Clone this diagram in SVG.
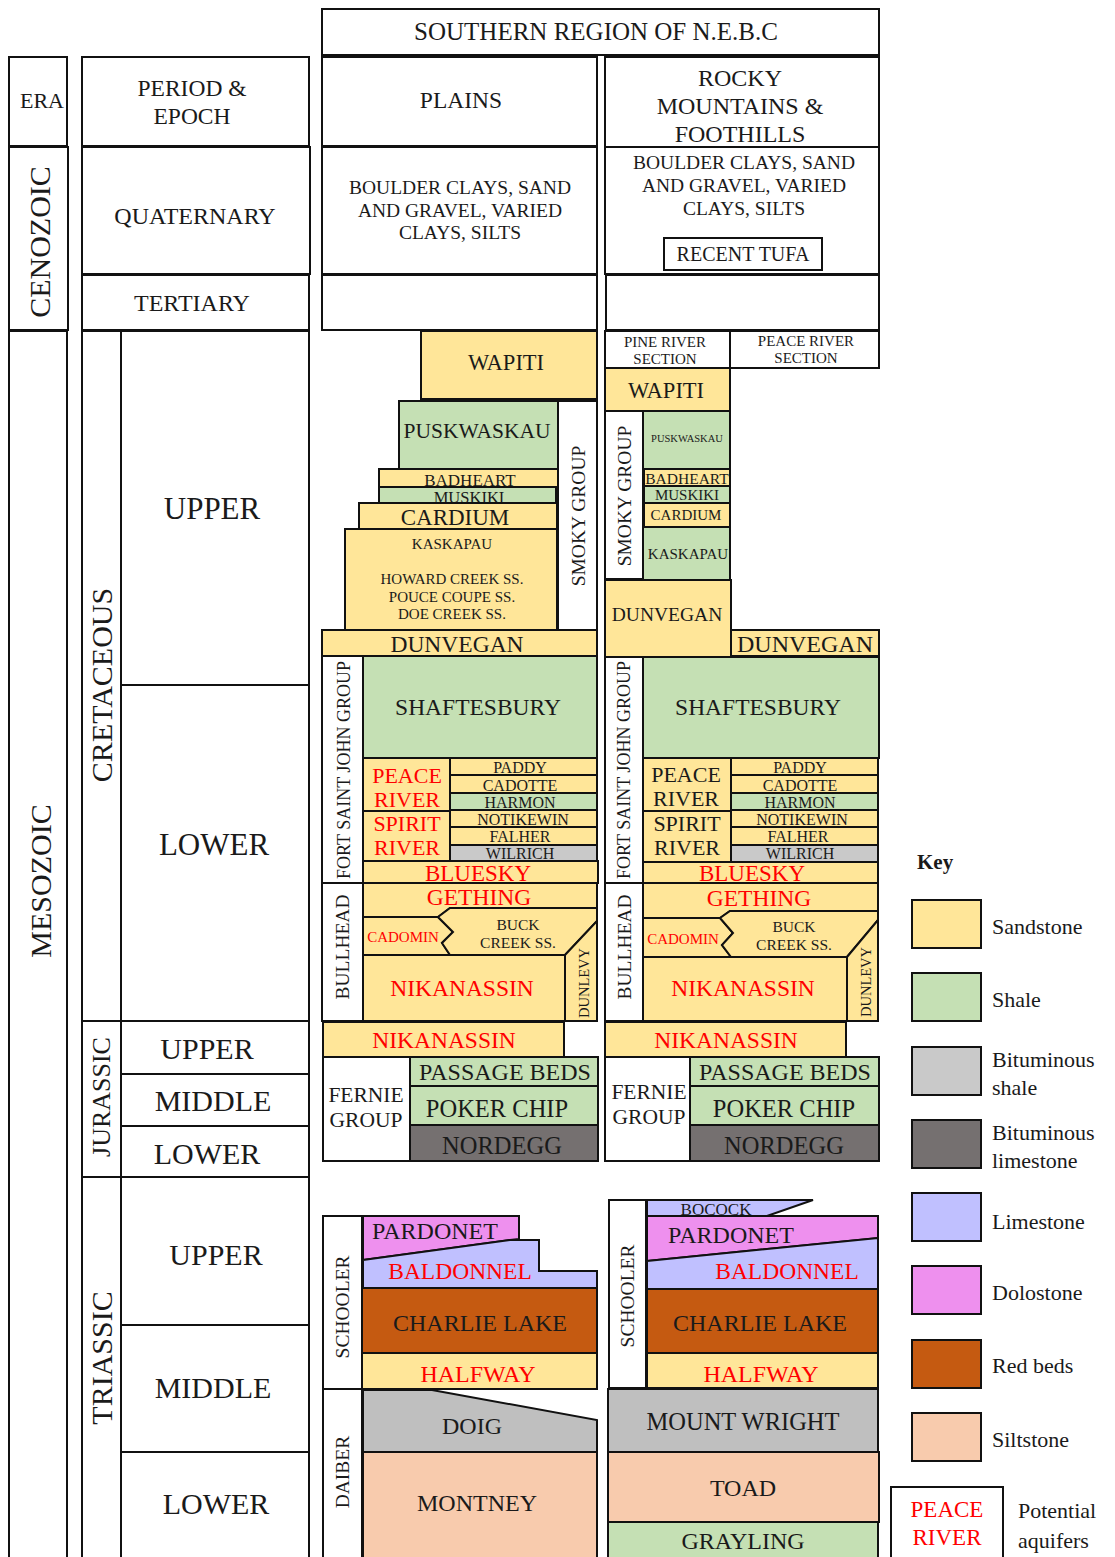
<svg xmlns="http://www.w3.org/2000/svg" width="1115" height="1557" viewBox="0 0 1115 1557">
<style>
rect,polygon{stroke:#111;stroke-width:2;stroke-linejoin:miter}
rect.bg{stroke:none;fill:#fff}
.w{fill:#fff}.ss{fill:#ffe699}.sh{fill:#c5e0b4}.bs{fill:#c9c9c9}.bl{fill:#757070}.ls{fill:#c0c0ff}.do{fill:#ee90ee}.rb{fill:#c55a11}.st{fill:#f8cbad}.gy{fill:#bfbfbf}
text{font-family:"Liberation Serif","Times New Roman",serif;fill:#1a1a1a;text-anchor:middle;dominant-baseline:central}
.r{fill:#ff0000}
.k{text-anchor:start}
</style>
<rect class="bg" x="0" y="0" width="1115" height="1557"/>

<!-- time scale columns -->
<g id="era-head"><rect class="w" x="9" y="57" width="58" height="89"/><text x="42" y="100" font-size="22">ERA</text></g>
<g id="cenozoic"><rect class="w" x="9" y="147" width="59" height="183"/><text transform="translate(39,242) rotate(-90)" font-size="30">CENOZOIC</text></g>
<g id="mesozoic"><rect class="w" x="9" y="331" width="58" height="1240"/><text transform="translate(40,881) rotate(-90)" font-size="30">MESOZOIC</text></g>
<g id="period-head"><rect class="w" x="82" y="57" width="227" height="89"/><text x="192" y="88" font-size="23.5">PERIOD &amp;</text><text x="192" y="116" font-size="23.5">EPOCH</text></g>
<g id="quaternary"><rect class="w" x="82" y="147" width="228" height="127"/><text x="195" y="216" font-size="24">QUATERNARY</text></g>
<g id="tertiary"><rect class="w" x="82" y="275" width="227" height="55"/><text x="192" y="303" font-size="24">TERTIARY</text></g>
<g id="cretaceous"><rect class="w" x="82" y="331" width="39" height="690"/><text transform="translate(101,685) rotate(-90)" font-size="30">CRETACEOUS</text></g>
<g id="cret-upper"><rect class="w" x="121" y="331" width="188" height="354"/><text x="212" y="508" font-size="31">UPPER</text></g>
<g id="cret-lower"><rect class="w" x="121" y="685" width="188" height="336"/><text x="214" y="844" font-size="31">LOWER</text></g>
<g id="jurassic"><rect class="w" x="82" y="1021" width="39" height="156"/><text transform="translate(101,1097) rotate(-90)" font-size="26">JURASSIC</text></g>
<g id="jur-upper"><rect class="w" x="121" y="1021" width="188" height="53"/><text x="207" y="1048" font-size="30">UPPER</text></g>
<g id="jur-middle"><rect class="w" x="121" y="1074" width="188" height="52"/><text x="213" y="1100" font-size="30">MIDDLE</text></g>
<g id="jur-lower"><rect class="w" x="121" y="1126" width="188" height="51"/><text x="207" y="1153" font-size="30">LOWER</text></g>
<g id="triassic"><rect class="w" x="82" y="1177" width="39" height="400"/><text transform="translate(101,1358) rotate(-90)" font-size="30">TRIASSIC</text></g>
<g id="tri-upper"><rect class="w" x="121" y="1177" width="188" height="148"/><text x="216" y="1254" font-size="30">UPPER</text></g>
<g id="tri-middle"><rect class="w" x="121" y="1325" width="188" height="127"/><text x="213" y="1387" font-size="30">MIDDLE</text></g>
<g id="tri-lower"><rect class="w" x="121" y="1452" width="188" height="120"/><text x="216" y="1503" font-size="30">LOWER</text></g>

<!-- headers -->
<g id="southern"><rect class="w" x="322" y="9" width="557" height="46"/><text x="596" y="31" font-size="25">SOUTHERN REGION OF N.E.B.C</text></g>
<g id="plains"><rect class="w" x="322" y="57" width="275" height="89"/><text x="461" y="100" font-size="23.5">PLAINS</text></g>
<g id="rocky"><rect class="w" x="605" y="57" width="274" height="90"/><text x="740" y="78" font-size="24">ROCKY</text><text x="740" y="106" font-size="24">MOUNTAINS &amp;</text><text x="740" y="134" font-size="24">FOOTHILLS</text></g>
<g id="plains-quat"><rect class="w" x="322" y="147" width="275" height="127"/><text x="460" y="187" font-size="19.5">BOULDER CLAYS, SAND</text><text x="460" y="210" font-size="19.5">AND GRAVEL, VARIED</text><text x="460" y="232" font-size="19.5">CLAYS, SILTS</text></g>
<g id="rocky-quat"><rect class="w" x="605" y="147" width="274" height="127"/><text x="744" y="162" font-size="19.5">BOULDER CLAYS, SAND</text><text x="744" y="185" font-size="19.5">AND GRAVEL, VARIED</text><text x="744" y="208" font-size="19.5">CLAYS, SILTS</text></g>
<g id="recent-tufa"><rect class="w" x="664" y="238" width="158" height="32"/><text x="743" y="254" font-size="20">RECENT TUFA</text></g>
<g id="plains-tert"><rect class="w" x="322" y="275" width="275" height="55"/></g>
<g id="rocky-tert"><rect class="w" x="606" y="275" width="273" height="55"/></g>
<g id="pine-river-section"><rect class="w" x="605" y="331" width="125" height="37"/><text x="665" y="342" font-size="15">PINE RIVER</text><text x="665" y="359" font-size="15">SECTION</text></g>
<g id="peace-river-section"><rect class="w" x="730" y="331" width="149" height="37"/><text x="806" y="341" font-size="15">PEACE RIVER</text><text x="806" y="358" font-size="15">SECTION</text></g>

<!-- plains cretaceous -->
<g id="p-wapiti"><rect class="ss" x="421" y="331" width="176" height="68"/><text x="506" y="362" font-size="22.5">WAPITI</text></g>
<g id="p-puskwaskau"><rect class="sh" x="399" y="401" width="159" height="68"/><text x="477" y="431" font-size="21.5">PUSKWASKAU</text></g>
<g id="p-smoky"><rect class="w" x="558" y="401" width="39" height="229"/><text transform="translate(578,516) rotate(-90)" font-size="19.5">SMOKY GROUP</text></g>
<g id="p-badheart"><rect class="ss" x="379" y="469" width="179" height="18"/><text x="470" y="480" font-size="17">BADHEART</text></g>
<g id="p-muskiki"><rect class="sh" x="379" y="487" width="177" height="16"/><text x="469" y="497" font-size="16.5">MUSKIKI</text></g>
<g id="p-cardium"><rect class="ss" x="359" y="503" width="198" height="26"/><text x="455" y="517" font-size="23">CARDIUM</text></g>
<g id="p-kaskapau"><rect class="ss" x="345" y="529" width="212" height="101"/><text x="452" y="544" font-size="15">KASKAPAU</text><text x="452" y="579" font-size="15">HOWARD CREEK SS.</text><text x="452" y="597" font-size="15">POUCE COUPE SS.</text><text x="452" y="614" font-size="15">DOE CREEK SS.</text></g>
<g id="p-dunvegan"><rect class="ss" x="322" y="630" width="275" height="26"/><text x="457" y="644" font-size="23.5">DUNVEGAN</text></g>
<g id="p-fsj"><rect class="w" x="322" y="656" width="41" height="227"/><text transform="translate(344,770) rotate(-90)" font-size="18">FORT SAINT JOHN GROUP</text></g>
<g id="p-shaftesbury"><rect class="sh" x="363" y="656" width="234" height="102"/><text x="478" y="707" font-size="23.5">SHAFTESBURY</text></g>
<g id="p-peace-river"><rect class="ss" x="363" y="758" width="87" height="53"/><text class="r" x="407" y="775" font-size="22">PEACE</text><text class="r" x="407" y="799" font-size="22">RIVER</text></g>
<g id="p-spirit-river"><rect class="ss" x="363" y="811" width="87" height="50"/><text class="r" x="407" y="823" font-size="22">SPIRIT</text><text class="r" x="407" y="847" font-size="22">RIVER</text></g>
<g id="p-paddy"><rect class="ss" x="450" y="758" width="147" height="17"/><text x="520" y="767" font-size="16">PADDY</text></g>
<g id="p-cadotte"><rect class="ss" x="450" y="775" width="147" height="18"/><text x="520" y="785" font-size="16">CADOTTE</text></g>
<g id="p-harmon"><rect class="sh" x="450" y="793" width="147" height="17"/><text x="520" y="802" font-size="16">HARMON</text></g>
<g id="p-notikewin"><rect class="ss" x="450" y="810" width="147" height="17"/><text x="523" y="819" font-size="16">NOTIKEWIN</text></g>
<g id="p-falher"><rect class="ss" x="450" y="827" width="147" height="18"/><text x="520" y="836" font-size="16">FALHER</text></g>
<g id="p-wilrich"><rect class="bs" x="450" y="845" width="147" height="16"/><text x="520" y="853" font-size="16">WILRICH</text></g>
<g id="p-bluesky"><rect class="ss" x="363" y="861" width="235" height="22"/><text class="r" x="478" y="873" font-size="23">BLUESKY</text></g>
<g id="p-bullhead"><rect class="w" x="322" y="883" width="41" height="138"/><text transform="translate(342,947) rotate(-90)" font-size="19.5">BULLHEAD</text></g>
<g id="p-gething"><polygon class="ss" points="363,883 597,883 597,908 450,908 438,917 363,917"/><text class="r" x="479" y="897" font-size="23.5">GETHING</text></g>
<g id="p-cadomin"><polygon class="ss" points="363,917 438,917 453,932 442,943 450,955 363,955"/><text class="r" x="403" y="937" font-size="15">CADOMIN</text></g>
<g id="p-buck-creek"><polygon class="ss" points="438,917 450,908 597,908 597,921 565,955 450,955 442,943 453,932"/><text x="518" y="924" font-size="15.5">BUCK</text><text x="518" y="942" font-size="15.5">CREEK SS.</text></g>
<g id="p-dunlevy"><polygon class="ss" points="565,955 597,921 597,1021 565,1021"/><text transform="translate(584,983) rotate(-90)" font-size="14.5">DUNLEVY</text></g>
<g id="p-nikanassin"><rect class="ss" x="363" y="955" width="202" height="66"/><text class="r" x="462" y="988" font-size="23.5">NIKANASSIN</text></g>

<!-- rocky cretaceous -->
<g id="r-wapiti"><rect class="ss" x="605" y="368" width="125" height="43"/><text x="666" y="390" font-size="22.5">WAPITI</text></g>
<g id="r-smoky"><rect class="w" x="605" y="411" width="38" height="168"/><text transform="translate(624,496) rotate(-90)" font-size="19.5">SMOKY GROUP</text></g>
<g id="r-puskwaskau"><rect class="sh" x="643" y="411" width="87" height="58"/><text x="687" y="438" font-size="10.5">PUSKWASKAU</text></g>
<g id="r-badheart"><rect class="ss" x="644" y="469" width="86" height="17"/><text x="687" y="478" font-size="15.5">BADHEART</text></g>
<g id="r-muskiki"><rect class="sh" x="644" y="486" width="86" height="17"/><text x="687" y="495" font-size="15">MUSKIKI</text></g>
<g id="r-cardium"><rect class="ss" x="644" y="503" width="86" height="24"/><text x="686" y="515" font-size="15">CARDIUM</text></g>
<g id="r-kaskapau"><rect class="sh" x="643" y="527" width="87" height="53"/><text x="688" y="554" font-size="15">KASKAPAU</text></g>
<g id="r-dunvegan-pine"><rect class="ss" x="605" y="580" width="126" height="77"/><text x="667" y="614" font-size="19.5">DUNVEGAN</text></g>
<g id="r-dunvegan-peace"><rect class="ss" x="731" y="630" width="148" height="26"/><text x="805" y="644" font-size="24">DUNVEGAN</text></g>
<g id="r-fsj"><rect class="w" x="605" y="657" width="38" height="226"/><text transform="translate(624,770) rotate(-90)" font-size="18">FORT SAINT JOHN GROUP</text></g>
<g id="r-shaftesbury"><rect class="sh" x="643" y="657" width="236" height="101"/><text x="758" y="707" font-size="23.5">SHAFTESBURY</text></g>
<g id="r-peace-river"><rect class="ss" x="643" y="758" width="88" height="53"/><text x="686" y="774" font-size="22">PEACE</text><text x="686" y="798" font-size="22">RIVER</text></g>
<g id="r-spirit-river"><rect class="ss" x="643" y="811" width="88" height="51"/><text x="687" y="823" font-size="22">SPIRIT</text><text x="687" y="847" font-size="22">RIVER</text></g>
<g id="r-paddy"><rect class="ss" x="731" y="758" width="147" height="17"/><text x="800" y="767" font-size="16">PADDY</text></g>
<g id="r-cadotte"><rect class="ss" x="731" y="775" width="147" height="18"/><text x="800" y="785" font-size="16">CADOTTE</text></g>
<g id="r-harmon"><rect class="sh" x="731" y="793" width="147" height="17"/><text x="800" y="802" font-size="16">HARMON</text></g>
<g id="r-notikewin"><rect class="ss" x="731" y="810" width="147" height="17"/><text x="802" y="819" font-size="16">NOTIKEWIN</text></g>
<g id="r-falher"><rect class="ss" x="731" y="827" width="147" height="18"/><text x="798" y="836" font-size="16">FALHER</text></g>
<g id="r-wilrich"><rect class="bs" x="731" y="845" width="147" height="17"/><text x="800" y="853" font-size="16">WILRICH</text></g>
<g id="r-bluesky"><rect class="ss" x="643" y="862" width="235" height="21"/><text class="r" x="752" y="873" font-size="23">BLUESKY</text></g>
<g id="r-bullhead"><rect class="w" x="605" y="883" width="38" height="138"/><text transform="translate(624,947) rotate(-90)" font-size="19.5">BULLHEAD</text></g>
<g id="r-gething"><polygon class="ss" points="643,883 878,883 878,911 730,911 720,918 643,918"/><text class="r" x="759" y="898" font-size="23.5">GETHING</text></g>
<g id="r-cadomin"><polygon class="ss" points="643,918 720,918 733,933 722,945 731,957 643,957"/><text class="r" x="683" y="939" font-size="15">CADOMIN</text></g>
<g id="r-buck-creek"><polygon class="ss" points="720,918 730,911 878,911 878,920 847,957 731,957 722,945 733,933"/><text x="794" y="926" font-size="15.5">BUCK</text><text x="794" y="944" font-size="15.5">CREEK SS.</text></g>
<g id="r-dunlevy"><polygon class="ss" points="847,957 878,920 878,1021 847,1021"/><text transform="translate(866,982) rotate(-90)" font-size="14.5">DUNLEVY</text></g>
<g id="r-nikanassin"><rect class="ss" x="643" y="957" width="204" height="64"/><text class="r" x="743" y="988" font-size="23.5">NIKANASSIN</text></g>

<!-- jurassic -->
<g id="p-nikanassin-j"><rect class="ss" x="323" y="1022" width="241" height="35"/><text class="r" x="444" y="1040" font-size="23.5">NIKANASSIN</text></g>
<g id="p-fernie"><rect class="w" x="323" y="1057" width="87" height="104"/><text x="366" y="1095" font-size="21.5">FERNIE</text><text x="366" y="1120" font-size="21.5">GROUP</text></g>
<g id="p-passage"><rect class="sh" x="410" y="1057" width="188" height="29"/><text x="505" y="1072" font-size="24">PASSAGE BEDS</text></g>
<g id="p-poker"><rect class="sh" x="410" y="1086" width="188" height="39"/><text x="497" y="1108" font-size="24.5">POKER CHIP</text></g>
<g id="p-nordegg"><rect class="bl" x="410" y="1125" width="188" height="36"/><text x="502" y="1145" font-size="24.5">NORDEGG</text></g>
<g id="r-nikanassin-j"><rect class="ss" x="605" y="1022" width="241" height="35"/><text class="r" x="726" y="1040" font-size="23.5">NIKANASSIN</text></g>
<g id="r-fernie"><rect class="w" x="605" y="1057" width="85" height="104"/><text x="649" y="1092" font-size="21.5">FERNIE</text><text x="649" y="1117" font-size="21.5">GROUP</text></g>
<g id="r-passage"><rect class="sh" x="690" y="1057" width="189" height="29"/><text x="785" y="1072" font-size="24">PASSAGE BEDS</text></g>
<g id="r-poker"><rect class="sh" x="690" y="1086" width="189" height="39"/><text x="784" y="1108" font-size="24.5">POKER CHIP</text></g>
<g id="r-nordegg"><rect class="bl" x="690" y="1125" width="189" height="36"/><text x="784" y="1145" font-size="24.5">NORDEGG</text></g>

<!-- triassic plains -->
<g id="p-schooler"><rect class="w" x="323" y="1216" width="39" height="173"/><text transform="translate(342,1307) rotate(-90)" font-size="19.5">SCHOOLER</text></g>
<g id="p-pardonet"><polygon class="do" points="363,1216 519,1216 519,1239 510,1240 363,1260"/><text x="435" y="1231" font-size="24">PARDONET</text></g>
<g id="p-baldonnel"><polygon class="ls" points="363,1260 510,1240 539,1240 539,1271 597,1271 597,1288 363,1288"/><text class="r" x="460" y="1271" font-size="23.5">BALDONNEL</text></g>
<g id="p-charlie"><rect class="rb" x="362" y="1288" width="235" height="65"/><text x="480" y="1323" font-size="24">CHARLIE LAKE</text></g>
<g id="p-halfway"><rect class="ss" x="362" y="1353" width="235" height="36"/><text class="r" x="478" y="1374" font-size="24">HALFWAY</text></g>
<g id="p-daiber"><rect class="w" x="323" y="1389" width="39" height="180"/><text transform="translate(342,1472) rotate(-90)" font-size="19.5">DAIBER</text></g>
<g id="p-doig"><polygon class="gy" points="363,1390 432,1390 597,1420 597,1452 363,1452"/><text x="472" y="1426" font-size="24">DOIG</text></g>
<g id="p-montney"><rect class="st" x="363" y="1452" width="234" height="120"/><text x="477" y="1503" font-size="24">MONTNEY</text></g>

<!-- triassic rocky -->
<g id="r-schooler"><rect class="w" x="609" y="1200" width="37" height="188"/><text transform="translate(627,1296) rotate(-90)" font-size="19.5">SCHOOLER</text></g>
<g id="r-bocock"><polygon class="ls" points="647,1200 813,1200 767,1216 647,1216"/><text x="716" y="1209" font-size="17">BOCOCK</text></g>
<g id="r-pardonet"><polygon class="do" points="647,1216 878,1216 878,1238 647,1261"/><text x="731" y="1235" font-size="24">PARDONET</text></g>
<g id="r-baldonnel"><polygon class="ls" points="647,1261 878,1238 878,1289 647,1289"/><text class="r" x="787" y="1271" font-size="23.5">BALDONNEL</text></g>
<g id="r-charlie"><rect class="rb" x="647" y="1289" width="231" height="64"/><text x="760" y="1323" font-size="24">CHARLIE LAKE</text></g>
<g id="r-halfway"><rect class="ss" x="647" y="1353" width="231" height="35"/><text class="r" x="761" y="1374" font-size="24">HALFWAY</text></g>
<g id="r-mount-wright"><rect class="gy" x="608" y="1389" width="270" height="63"/><text x="743" y="1421" font-size="24.5">MOUNT WRIGHT</text></g>
<g id="r-toad"><rect class="st" x="608" y="1452" width="271" height="70"/><text x="743" y="1488" font-size="24">TOAD</text></g>
<g id="r-grayling"><rect class="sh" x="608" y="1522" width="270" height="50"/><text x="743" y="1541" font-size="24">GRAYLING</text></g>

<!-- key -->
<g id="key">
<text class="k" x="917" y="862" font-size="21" font-weight="bold">Key</text>
<rect class="ss" x="912" y="900" width="69" height="48"/><text class="k" x="992" y="926" font-size="22">Sandstone</text>
<rect class="sh" x="912" y="973" width="69" height="48"/><text class="k" x="992" y="999" font-size="22">Shale</text>
<rect class="bs" x="912" y="1047" width="69" height="48"/><text class="k" x="992" y="1059" font-size="22">Bituminous</text><text class="k" x="992" y="1087" font-size="22">shale</text>
<rect class="bl" x="912" y="1120" width="69" height="48"/><text class="k" x="992" y="1132" font-size="22">Bituminous</text><text class="k" x="992" y="1160" font-size="22">limestone</text>
<rect class="ls" x="912" y="1193" width="69" height="48"/><text class="k" x="992" y="1221" font-size="22">Limestone</text>
<rect class="do" x="912" y="1266" width="69" height="48"/><text class="k" x="992" y="1292" font-size="22">Dolostone</text>
<rect class="rb" x="912" y="1340" width="69" height="48"/><text class="k" x="992" y="1365" font-size="22">Red beds</text>
<rect class="st" x="912" y="1413" width="69" height="48"/><text class="k" x="992" y="1439" font-size="22">Siltstone</text>
<rect class="w" x="891" y="1487" width="112" height="80"/><text class="r" x="947" y="1509" font-size="23">PEACE</text><text class="r" x="947" y="1537" font-size="23">RIVER</text>
<text class="k" x="1018" y="1510" font-size="22">Potential</text><text class="k" x="1018" y="1540" font-size="22">aquifers</text>
</g>
</svg>
